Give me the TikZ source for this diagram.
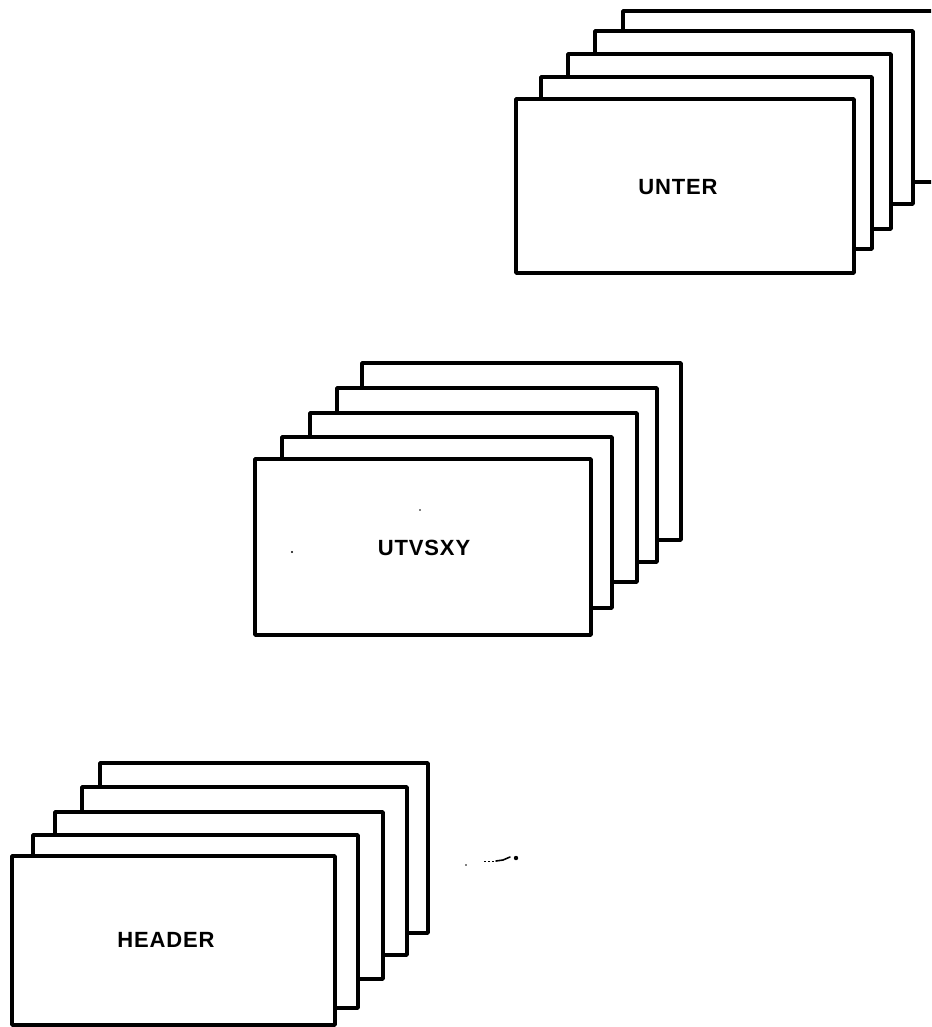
\documentclass[tikz,border=0pt]{standalone}
\usepackage{fontspec}
\newfontfamily\cardfont{Liberation Sans}[LetterSpace=4]
\tikzset{
  card/.style={draw=black, fill=white, line width=3.6pt, line join=round,
    rectangle, inner sep=0pt, outer sep=0pt},
  cardlabel/.style={font=\cardfont\bfseries\fontsize{22}{22}\selectfont, text=black}
}
% \stackcard{name}{left}{top}{right}{bottom}: one card, in pixel-like units
\newcommand\stackcard[5]{%
  \node[card, minimum width={(#4-#2)*1pt}, minimum height={(#5-#3)*1pt}]
    (#1) at ({(#2+#4)/2},{(#3+#5)/2}) {};}
\begin{document}
\begin{tikzpicture}[x=1pt, y=-1pt]
  \useasboundingbox (0,0) rectangle (931,1027);
  \clip (0,0) rectangle (931,1027);

  % upper stack
  \stackcard{ua}{623}{11}{940}{182}
  \stackcard{ub}{595}{31}{913}{204}
  \stackcard{uc}{568}{54}{891}{229}
  \stackcard{ud}{541}{77}{872}{249}
  \stackcard{ue}{516}{99}{854}{273}
  \node[cardlabel] (unter) at (678,187) {UNTER};

  % middle stack
  \stackcard{ma}{362}{363}{681}{540}
  \stackcard{mb}{337}{388}{657}{562}
  \stackcard{mc}{310}{413}{637}{582}
  \stackcard{md}{282}{437}{612}{608}
  \stackcard{me}{255}{459}{591}{635}
  \node[cardlabel] (utvsxy) at (424,548) {UTVSXY};
  \fill (420,510) circle (0.9);
  \fill (292,552) circle (1.1);

  % lower stack
  \stackcard{ha}{100}{763}{428}{933}
  \stackcard{hb}{82}{787}{407}{955}
  \stackcard{hc}{55}{812}{383}{979}
  \stackcard{hd}{33}{835}{358}{1008}
  \stackcard{he}{12}{856}{335}{1025}
  \node[cardlabel] (header) at (166,940) {HEADER};

  % small pen mark beside the lower stack
  \fill (466,865) circle (0.8);
  \draw[line width=0.8pt, dash pattern=on 2pt off 2pt] (484,861) -- (496,861);
  \draw[line width=1.6pt, line cap=round] (496,861) -- (503,860) -- (510,857);
  \fill (516,858) circle (2.2);
\end{tikzpicture}
\end{document}
